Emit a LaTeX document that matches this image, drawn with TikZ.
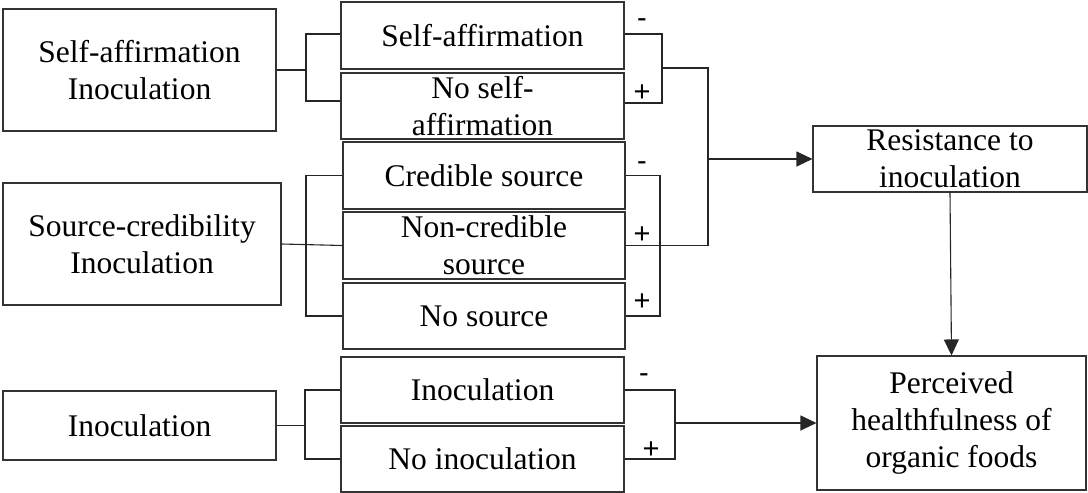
\documentclass[tikz,border=0pt]{standalone}
\usepackage{fontspec}
\setmainfont{Liberation Serif}
\newfontfamily\signfont{Liberation Sans}
\usetikzlibrary{arrows.meta}
\begin{document}
\begin{tikzpicture}[x=1pt,y=-1pt,line width=1.1pt,
  box/.style={draw=black!80,line width=1.1pt,inner sep=0pt,align=center,
    font=\fontsize{31.5}{37}\selectfont},
  sign/.style={inner sep=0pt,font=\signfont\fontsize{29}{32}\selectfont},
  conn/.style={draw=black!85,line width=1.1pt},
  arr/.style={conn,-{Triangle[length=16pt,width=15pt]}}]
\useasboundingbox (0,0) rectangle (1088,493);
% left boxes
\node[box,minimum width=273pt,minimum height=122pt] (sa) at (139.5,70) {Self-affirmation\\Inoculation};
\node[box,minimum width=278pt,minimum height=122pt] (sc) at (142,244) {Source-credibility\\Inoculation};
\node[box,minimum width=273pt,minimum height=69pt] (in) at (139.5,425.5) {Inoculation};
% middle boxes
\node[box,minimum width=283pt,minimum height=67pt] (m1) at (482.5,35.5) {Self-affirmation};
\node[box,minimum width=283pt,minimum height=66pt] (m2) at (482.5,106) {No self-\\affirmation};
\node[box,minimum width=282pt,minimum height=67pt] (m3) at (484,175.5) {Credible source};
\node[box,minimum width=282pt,minimum height=67pt] (m4) at (484,245.5) {Non-credible\\source};
\node[box,minimum width=282pt,minimum height=66pt] (m5) at (484,316) {No source};
\node[box,minimum width=283pt,minimum height=66pt] (m6) at (482.5,390) {Inoculation};
\node[box,minimum width=283pt,minimum height=66pt] (m7) at (482.5,459) {No inoculation};
% right boxes
\node[box,minimum width=274pt,minimum height=66pt] (res) at (950,159) {Resistance to\\inoculation};
\node[box,minimum width=269pt,minimum height=134pt] (per) at (951.5,423) {Perceived\\healthfulness of\\organic foods};
% left brackets
\coordinate (saj) at (306,70);
\draw[conn] (sa.east) -- (saj);
\draw[conn] ([yshift=1.5pt]m1.west) -| (saj) |- ([yshift=5pt]m2.west);
\coordinate (scj) at (306,246);
\draw[conn] (sc.east) -- (m4.west);
\draw[conn] (m3.west) -| (scj) |- (m5.west);
\coordinate (inj) at (305,425.5);
\draw[conn] (in.east) -- (inj);
\draw[conn] (m6.west) -| (inj) |- (m7.west);
% right brackets
\coordinate (rsa) at (662,68);
\draw[conn] ([yshift=1.5pt]m1.east) -| (rsa) |- ([yshift=3pt]m2.east);
\coordinate (hubt) at (708,68);
\coordinate (hubm) at (708,159);
\draw[conn] (rsa) -- (hubt) |- (m4.east);
\draw[arr] (hubm) -- (res.west);
\coordinate (rsc) at (660,246);
\draw[conn] (m3.east) -| (rsc) |- (m5.east);
\coordinate (rin) at (675,423);
\draw[conn] (m6.east) -| (rin) |- (m7.east);
\draw[arr] (rin) -- (per.west);
\draw[arr] (res.south) -- (per.north);
% signs
\node[sign] (s1) at (642,23) {-};
\node[sign] (s2) at (642,93) {+};
\node[sign] (s3) at (642,166) {-};
\node[sign] (s4) at (642,235) {+};
\node[sign] (s5) at (642,302) {+};
\node[sign] (s6) at (644,378) {-};
\node[sign] (s7) at (651,450) {+};
\end{tikzpicture}
\end{document}
